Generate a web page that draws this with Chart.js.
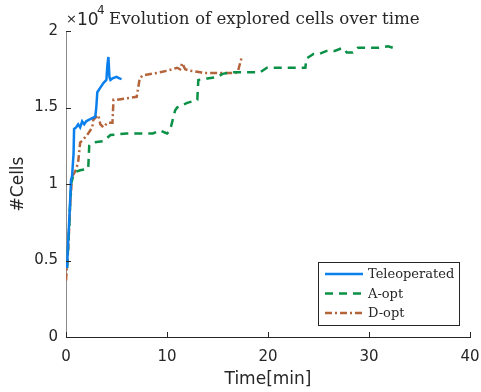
<!DOCTYPE html>
<html>
<head>
<meta charset="utf-8">
<script src="https://cdn.jsdelivr.net/npm/chart.js@4/dist/chart.umd.min.js"></script>
<style>
  html, body { margin: 0; padding: 0; background: #fff; }
  #wrap { width: 481px; height: 392px; }
</style>
</head>
<body>
<div id="wrap"><canvas id="cells" width="481" height="392"></canvas></div>
<script>
// values (time in minutes, explored cells)
const teleTime  = [0.1, 0.2, 0.35, 0.5, 0.6, 0.75, 0.8, 1.0, 1.2, 1.4, 1.6, 1.8, 2.0, 2.3, 2.6, 2.9, 3.0, 3.1, 3.4, 3.7, 4.0, 4.1, 4.2, 4.3, 4.4, 4.6, 5.0, 5.3, 5.5];
const teleCells = [4500, 6000, 8000, 10300, 10500, 12000, 13600, 13700, 13900, 13700, 14100, 13900, 14100, 14200, 14300, 14400, 15000, 16000, 16300, 16600, 16800, 17800, 18300, 17000, 16800, 16900, 17000, 16900, 16850];

const aoptTime  = [0.1, 0.3, 0.5, 0.7, 1.0, 1.4, 2.2, 2.3, 2.6, 3.7, 4.4, 6.0, 7.0, 8.6, 9.3, 10.0, 10.3, 10.8, 11.0, 12.0, 13.0, 13.1, 14.0, 15.0, 15.5, 16.4, 19.2, 19.9, 22.7, 23.7, 23.8, 24.5, 25.1, 25.8, 26.6, 27.4, 27.8, 28.4, 28.9, 30.9, 31.9, 32.6];
const aoptCells = [4500, 7000, 10000, 10500, 10800, 10900, 11000, 12500, 12700, 12800, 13200, 13300, 13300, 13300, 13500, 13300, 13500, 14800, 15000, 15300, 15500, 16800, 16900, 17000, 17200, 17300, 17300, 17600, 17600, 17600, 18200, 18500, 18500, 18700, 18700, 18900, 18600, 18600, 18900, 18900, 19000, 18850];

const doptTime  = [0, 0.2, 0.4, 0.6, 0.9, 1.2, 1.4, 1.7, 2.2, 2.6, 2.7, 3.2, 3.4, 3.7, 4.1, 4.6, 4.7, 5.0, 6.0, 7.0, 7.3, 7.6, 8.5, 9.3, 10.0, 11.0, 11.3, 11.5, 11.8, 12.3, 13.3, 13.6, 16.7, 17.0, 17.4];
const doptCells = [3700, 5500, 8500, 10500, 10800, 11400, 12700, 12900, 13300, 13700, 14200, 14500, 13900, 13700, 14000, 14000, 15500, 15500, 15600, 15700, 16900, 17100, 17200, 17300, 17400, 17600, 17500, 17900, 17500, 17400, 17300, 17250, 17250, 17300, 18300];

const xTicks = [0, 10, 20, 30, 40];
const yTicks = [0, 5000, 10000, 15000, 20000];
const seriesNames = ['Teleoperated', 'A-opt', 'D-opt'];

function toPoints(ts, vs) {
    return ts.map((t, i) => ({ x: t, y: vs[i] }));
}

// MATLAB-ish extras: inward ticks, exponent label, title, legend box
const matlabBits = {
    id: 'matlabBits',
    afterDraw(chart) {
        const ctx = chart.ctx;
        const xs = chart.scales.x, ys = chart.scales.y;
        const area = chart.chartArea;
        ctx.save();

        // inward ticks
        ctx.strokeStyle = '#262626';
        ctx.lineWidth = 1;
        xTicks.forEach(v => {
            const px = Math.round(xs.getPixelForValue(v)) + 0.5;
            ctx.beginPath();
            ctx.moveTo(px, area.bottom);
            ctx.lineTo(px, area.bottom - 5);
            ctx.stroke();
        });
        yTicks.forEach(v => {
            const py = Math.round(ys.getPixelForValue(v)) + 0.5;
            ctx.beginPath();
            ctx.moveTo(area.left, py);
            ctx.lineTo(area.left + 5, py);
            ctx.stroke();
        });

        // exponent + title
        ctx.fillStyle = '#262626';
        ctx.textBaseline = 'alphabetic';
        ctx.textAlign = 'left';
        ctx.font = '13px "DejaVu Sans"';
        ctx.fillText('\u00d7', 66, 23);
        ctx.font = '17px "DejaVu Sans"';
        ctx.fillText('10', 77, 25);
        ctx.font = '12px "DejaVu Sans"';
        ctx.fillText('4', 97, 14);
        ctx.font = '16.7px "DejaVu Serif"';
        ctx.fillText('Evolution of explored cells over time', 109, 24);

        // legend
        const lx = 318, ly = 262, lw = 141, lh = 63;
        ctx.fillStyle = '#fff';
        ctx.fillRect(lx, ly, lw, lh);
        ctx.strokeStyle = '#262626';
        ctx.lineWidth = 1;
        ctx.strokeRect(lx + 0.5, ly + 0.5, lw, lh);
        ctx.font = '13px "DejaVu Serif"';
        ctx.textBaseline = 'middle';
        chart.data.datasets.forEach((ds, i) => {
            const y = ly + 12 + i * 19.5;
            ctx.strokeStyle = ds.borderColor;
            ctx.lineWidth = ds.borderWidth;
            ctx.setLineDash(ds.borderDash || []);
            ctx.beginPath();
            ctx.moveTo(lx + 7, y);
            ctx.lineTo(lx + 45, y);
            ctx.stroke();
            ctx.setLineDash([]);
            ctx.fillStyle = '#262626';
            ctx.fillText(ds.label, lx + 50, y + 1);
        });
        ctx.restore();
    }
};

new Chart(document.getElementById('cells'), {
    type: 'line',
    data: {
        datasets: [
            {
                label: seriesNames[0],
                data: toPoints(teleTime, teleCells),
                borderColor: '#0b80ec',
                borderWidth: 2.5,
                pointRadius: 0,
                tension: 0
            },
            {
                label: seriesNames[1],
                data: toPoints(aoptTime, aoptCells),
                borderColor: '#0b9147',
                borderWidth: 2.5,
                borderDash: [8, 6],
                pointRadius: 0,
                tension: 0
            },
            {
                label: seriesNames[2],
                data: toPoints(doptTime, doptCells),
                borderColor: '#b4643b',
                borderWidth: 2.5,
                borderDash: [7, 3, 2, 3],
                pointRadius: 0,
                tension: 0
            }
        ]
    },
    options: {
        responsive: false,
        animation: false,
        parsing: false,
        layout: { padding: { top: 31, right: 11, left: 0, bottom: 0 } },
        plugins: {
            legend: { display: false },
            tooltip: { enabled: false }
        },
        scales: {
            x: {
                type: 'linear',
                min: 0,
                max: 40,
                afterBuildTicks: s => { s.ticks = xTicks.map(v => ({ value: v })); },
                afterFit: s => { s.height = 55; s.paddingLeft = 0; s.paddingRight = 0; },
                border: { color: '#262626', width: 1 },
                grid: { display: false, drawTicks: false },
                ticks: {
                    color: '#262626',
                    font: { family: 'DejaVu Sans', size: 15 },
                    padding: 11
                },
                title: {
                    display: true,
                    text: 'Time[min]',
                    color: '#262626',
                    font: { family: 'DejaVu Sans', size: 17 },
                    padding: { top: 0, bottom: 2 }
                }
            },
            y: {
                type: 'linear',
                min: 0,
                max: 20000,
                afterBuildTicks: s => { s.ticks = yTicks.map(v => ({ value: v })); },
                afterFit: s => { s.width = 66; },
                border: { color: '#8a8a8a', width: 1 },
                grid: { display: false, drawTicks: false },
                ticks: {
                    color: '#262626',
                    font: { family: 'DejaVu Sans', size: 15 },
                    padding: 8,
                    callback: v => String(v / 10000)
                },
                title: {
                    display: true,
                    text: '#Cells',
                    color: '#262626',
                    font: { family: 'DejaVu Sans', size: 17 },
                    padding: { top: 8, bottom: 0 }
                }
            }
        }
    },
    plugins: [matlabBits]
});
</script>
</body>
</html>
